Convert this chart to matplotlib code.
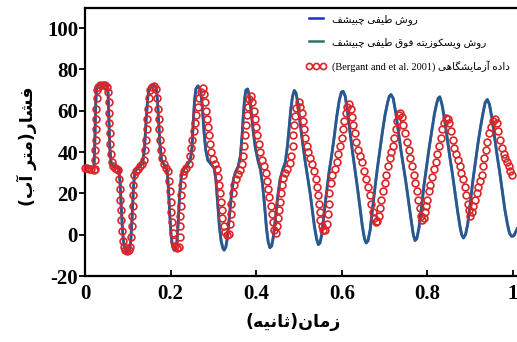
import matplotlib
matplotlib.use("Agg")
import matplotlib.pyplot as plt
from matplotlib.lines import Line2D
from matplotlib.font_manager import FontProperties

# ---------------------------------------------------------------------------
# Simulated pressure head (Chebyshev spectral / spectral-viscosity), m of water
# ---------------------------------------------------------------------------
t_sim = [
    0.000, 0.021, 0.023, 0.025, 0.027, 0.030, 0.042, 0.052, 0.054, 0.056,
    0.058, 0.061, 0.065, 0.072, 0.079, 0.082, 0.085, 0.088, 0.091, 0.095,
    0.100, 0.104, 0.107, 0.110, 0.113, 0.116, 0.120, 0.128, 0.135, 0.139,
    0.143, 0.147, 0.151, 0.158, 0.166, 0.169, 0.172, 0.175, 0.179, 0.186,
    0.192, 0.195, 0.198, 0.201, 0.204, 0.208, 0.212, 0.215, 0.218, 0.221,
    0.225, 0.230, 0.238, 0.246, 0.250, 0.253, 0.256, 0.259, 0.264, 0.270,
    0.274, 0.278, 0.282, 0.287, 0.295, 0.302, 0.306, 0.310, 0.314, 0.318,
    0.322, 0.325, 0.329, 0.333, 0.337, 0.342, 0.347, 0.352, 0.358, 0.363,
    0.367, 0.370, 0.373, 0.376, 0.380, 0.384, 0.388, 0.393, 0.398, 0.404,
    0.410, 0.415, 0.420, 0.424, 0.428, 0.432, 0.436, 0.440, 0.445, 0.450,
    0.456, 0.462, 0.468, 0.473, 0.477, 0.481, 0.485, 0.489, 0.493, 0.497,
    0.502, 0.508, 0.514, 0.520, 0.526, 0.531, 0.536, 0.541, 0.545, 0.549,
    0.553, 0.558, 0.564, 0.570, 0.576, 0.582, 0.588, 0.594, 0.599, 0.603,
    0.608, 0.613, 0.619, 0.625, 0.631, 0.637, 0.643, 0.648, 0.653, 0.657,
    0.661, 0.666, 0.671, 0.677, 0.683, 0.689, 0.695, 0.701, 0.707, 0.711,
    0.715, 0.720, 0.726, 0.732, 0.738, 0.744, 0.750, 0.756, 0.762, 0.767,
    0.771, 0.775, 0.780, 0.786, 0.792, 0.798, 0.804, 0.810, 0.816, 0.821,
    0.825, 0.829, 0.834, 0.840, 0.846, 0.852, 0.858, 0.864, 0.870, 0.876,
    0.880, 0.884, 0.889, 0.894, 0.900, 0.906, 0.912, 0.918, 0.924, 0.930,
    0.935, 0.940, 0.945, 0.951, 0.957, 0.963, 0.969, 0.975, 0.981, 0.987,
    0.992, 0.997, 1.002, 1.010,
]
p_sim = [
    32.5, 32.5, 45, 63, 71, 72.5, 72.8, 72, 68, 55,
    42, 35, 33, 32.5, 32, 25, 12, 1, -5, -8,
    -8.5, -7.5, -3, 8, 22, 30, 31.5, 33, 35, 42,
    56, 67, 71.5, 72.5, 71.5, 66, 55, 44, 36, 33.5,
    31, 22, 10, 0, -5, -7.5, -7, -3, 7, 19,
    28, 31.5, 33.5, 36, 42, 55, 65, 70.5, 72, 70,
    62, 50, 41, 36, 34, 32, 26, 15, 4, -3,
    -6.5, -7.5, -6, -1, 8, 19, 27, 30.5, 33, 38,
    48, 58, 66, 70, 70.5, 67, 60, 50, 42, 36,
    31.5, 24, 13, 3, -3.5, -6.3, -5.5, -1, 8, 18,
    27, 31.5, 35, 43, 52, 61, 67, 69.8, 68.5, 64,
    55, 45, 36, 28, 20, 12, 4, -2, -4.8, -4,
    0, 9, 20, 30, 38, 47, 57, 65, 69, 69.4,
    67, 60, 50, 40, 31, 22, 12, 4, -2, -4,
    -3, 2, 11, 22, 32, 41, 50, 58, 64, 67,
    67.8, 66, 59, 50, 41, 33, 25, 16, 7, 0,
    -2.8, -2, 3, 13, 24, 33, 42, 50, 58, 63,
    66, 66.7, 63, 56, 47, 38, 30, 21, 12, 4,
    0, -1.6, 0, 5, 15, 26, 35, 44, 52, 59,
    64, 65.4, 63, 56, 47, 38, 30, 21, 12, 5,
    0.5, -0.8, -0.5, 3,
]

# ---------------------------------------------------------------------------
# Measured pressure head (Bergant et al. 2001)
# ---------------------------------------------------------------------------
t_exp = [
    0.000, 0.005, 0.010, 0.015, 0.020, 0.023,
    0.024, 0.0245, 0.025, 0.0255, 0.026, 0.0265, 0.027, 0.028,
    0.031, 0.036, 0.041, 0.046, 0.051, 0.054,
    0.055, 0.056, 0.057, 0.058, 0.059, 0.060, 0.062,
    0.066, 0.070, 0.074, 0.078,
    0.080, 0.081, 0.082, 0.083, 0.084, 0.086, 0.088, 0.090,
    0.094, 0.098, 0.102, 0.106,
    0.108, 0.109, 0.110, 0.111, 0.112, 0.113, 0.115,
    0.119, 0.124, 0.129, 0.134, 0.138,
    0.140, 0.142, 0.144, 0.146, 0.148, 0.150, 0.153,
    0.157, 0.162, 0.166,
    0.168, 0.170, 0.172, 0.174, 0.176, 0.178, 0.181,
    0.185, 0.190, 0.194,
    0.196, 0.198, 0.200, 0.202, 0.204, 0.206, 0.208,
    0.211, 0.215, 0.219,
    0.221, 0.222, 0.223, 0.224, 0.225, 0.226, 0.228,
    0.232, 0.237, 0.242,
    0.245, 0.248, 0.251, 0.254, 0.257, 0.260, 0.263, 0.266, 0.270, 0.275,
    0.279, 0.281, 0.283, 0.285, 0.287, 0.289, 0.291, 0.294,
    0.298, 0.303, 0.308,
    0.311, 0.313, 0.315, 0.317, 0.319, 0.321, 0.324,
    0.328, 0.332, 0.336,
    0.338, 0.340, 0.342, 0.345, 0.348, 0.352, 0.357, 0.362, 0.367, 0.370,
    0.372, 0.374, 0.376, 0.378, 0.380, 0.383, 0.387,
    0.391, 0.394, 0.397, 0.400, 0.403, 0.406, 0.410, 0.414, 0.418, 0.422,
    0.425, 0.428, 0.431, 0.434, 0.437, 0.439, 0.442, 0.446,
    0.449, 0.451, 0.453, 0.455, 0.457, 0.460, 0.463, 0.468, 0.473, 0.478,
    0.482, 0.485, 0.487, 0.489, 0.491, 0.494, 0.499,
    0.503, 0.506, 0.509, 0.512, 0.515, 0.518, 0.521, 0.526, 0.531, 0.536,
    0.540, 0.542, 0.544, 0.546, 0.548, 0.550, 0.553, 0.557, 0.561,
    0.565, 0.567, 0.569, 0.571, 0.574, 0.578, 0.583, 0.588, 0.592, 0.596,
    0.600, 0.603, 0.606, 0.609, 0.613, 0.617,
    0.621, 0.624, 0.627, 0.631, 0.634, 0.638, 0.642, 0.647, 0.652, 0.657,
    0.661, 0.665, 0.669, 0.672, 0.675, 0.679,
    0.683, 0.686, 0.689, 0.692, 0.696, 0.700, 0.704, 0.708, 0.712, 0.716,
    0.720, 0.723, 0.726, 0.729, 0.733, 0.737,
    0.741, 0.744, 0.748, 0.752, 0.756, 0.760, 0.764, 0.768, 0.772, 0.776,
    0.779, 0.782, 0.785, 0.788,
    0.791, 0.794, 0.797, 0.800, 0.803, 0.807, 0.811, 0.815, 0.819, 0.823,
    0.827, 0.831, 0.835, 0.839, 0.843, 0.847,
    0.851, 0.855, 0.859, 0.863, 0.867, 0.871, 0.875, 0.879, 0.883, 0.887,
    0.891, 0.894, 0.897, 0.900,
    0.903, 0.907, 0.911, 0.915, 0.919, 0.923, 0.927, 0.930, 0.933, 0.937,
    0.940, 0.944, 0.948, 0.953, 0.958,
    0.962, 0.966, 0.970, 0.974, 0.978, 0.982, 0.986, 0.990, 0.994, 0.998,
]
p_exp = [
    32.5, 32.5, 32, 32, 31.5, 32,
    36, 41, 46, 51, 56, 61, 66, 70,
    71.5, 72.5, 72.5, 72.5, 71.5, 69,
    64, 59, 54, 49, 44, 39, 35,
    33, 32.5, 32, 31.5,
    27, 22, 17, 12, 7, 2, -3, -6,
    -7.5, -8, -7.5, -6,
    -1, 4, 9, 14, 19, 24, 29,
    31, 32, 33, 34, 36,
    41, 46, 51, 56, 61, 66, 70,
    71.5, 72, 70.5,
    66, 61, 56, 51, 46, 41, 37,
    34, 32.5, 31,
    26, 21, 16, 11, 6, 1, -3,
    -5.5, -6.5, -6,
    -1, 4, 9, 14, 19, 24, 29,
    31, 32.5, 34,
    38, 42, 46, 50, 54, 58, 62, 66, 69, 71,
    68, 64, 60, 56, 52, 48, 44, 40,
    36.5, 34, 32,
    28, 24, 20, 16, 12, 8, 4,
    1.5, 0, 0.5,
    5, 10, 15, 20, 24, 27, 29.5, 31.5, 34, 38,
    43, 48, 53, 58, 62, 65.5, 67,
    64, 60, 56, 52, 48, 44, 40, 36, 33, 30,
    26, 22, 18, 14, 10, 6, 2.5, 1,
    4, 8, 12, 16, 20, 24, 27.5, 30, 32, 34.5,
    38, 43, 48, 53, 57.5, 61.5, 64,
    62, 59, 55, 51, 47, 43, 40, 37, 34, 31,
    27, 23, 19, 15, 11, 7, 4, 2.5, 2.5,
    5, 10, 15, 20, 25, 29, 32, 35, 39, 43,
    47, 51, 55, 59, 62, 63,
    61, 57, 53, 49, 45, 41, 38, 35, 31, 27,
    23, 19, 15, 11, 8, 6,
    6.5, 9, 13, 17, 21, 25, 29, 33, 37, 40,
    43, 47, 51, 55, 58, 59,
    57, 53, 49, 45, 41, 37, 33, 29, 25, 21,
    17, 13, 9, 7,
    8, 11, 14, 17, 21, 24, 28, 32, 35, 39,
    43, 47, 51, 54, 56.5, 56,
    54, 50, 46, 42, 39, 36, 33, 30, 27, 23,
    19, 15, 12, 9,
    11, 14, 17, 20, 23, 26, 29, 33, 37, 41,
    45, 49, 52, 55, 56,
    54, 50, 46, 42, 39, 37, 35, 33, 31, 29,
]
assert len(t_sim) == len(p_sim), (len(t_sim), len(p_sim))
assert len(t_exp) == len(p_exp), (len(t_exp), len(p_exp))

x_ticks = [0, 0.2, 0.4, 0.6, 0.8, 1.0]
x_tick_labels = ["0", "0.2", "0.4", "0.6", "0.8", "1"]
y_ticks = [-20, 0, 20, 40, 60, 80, 100]
y_tick_labels = ["-20", "0", "20", "40", "60", "80", "100"]

label_spectral = "روش طیفی چبیشف"
label_viscosity = "روش ویسکوزیته فوق طیفی چبیشف"
label_measured = "داده آزمایشگاهی"
label_source = "(Bergant and et al. 2001)"
x_title = "زمان(ثانیه)"
y_title = "فشار(متر آب)"

# ---------------------------------------------------------------------------
# Minimal Persian shaping: contextual presentation forms + visual reordering
# (isolated, final, initial, medial)
# ---------------------------------------------------------------------------
_FORMS = {
    "\u0627": ("\uFE8D", "\uFE8E", None, None),
    "\u0622": ("\uFE81", "\uFE82", None, None),
    "\u0628": ("\uFE8F", "\uFE90", "\uFE91", "\uFE92"),
    "\u062A": ("\uFE95", "\uFE96", "\uFE97", "\uFE98"),
    "\u062B": ("\uFE99", "\uFE9A", "\uFE9B", "\uFE9C"),
    "\u0686": ("\uFB7A", "\uFB7B", "\uFB7C", "\uFB7D"),
    "\u062F": ("\uFEA9", "\uFEAA", None, None),
    "\u0631": ("\uFEAD", "\uFEAE", None, None),
    "\u0632": ("\uFEAF", "\uFEB0", None, None),
    "\u0633": ("\uFEB1", "\uFEB2", "\uFEB3", "\uFEB4"),
    "\u0634": ("\uFEB5", "\uFEB6", "\uFEB7", "\uFEB8"),
    "\u0637": ("\uFEC1", "\uFEC2", "\uFEC3", "\uFEC4"),
    "\u0641": ("\uFED1", "\uFED2", "\uFED3", "\uFED4"),
    "\u0642": ("\uFED5", "\uFED6", "\uFED7", "\uFED8"),
    "\u06A9": ("\uFB8E", "\uFB8F", "\uFB90", "\uFB91"),
    "\u06AF": ("\uFB92", "\uFB93", "\uFB94", "\uFB95"),
    "\u0645": ("\uFEE1", "\uFEE2", "\uFEE3", "\uFEE4"),
    "\u0646": ("\uFEE5", "\uFEE6", "\uFEE7", "\uFEE8"),
    "\u0647": ("\uFEE9", "\uFEEA", "\uFEEB", "\uFEEC"),
    "\u0648": ("\uFEED", "\uFEEE", None, None),
    "\u06CC": ("\uFBFC", "\uFBFD", "\uFBFE", "\uFBFF"),
}


def rtl(text):
    text = text.replace("\u064A", "\u06CC").replace("\u0643", "\u06A9")
    out = []
    for i, ch in enumerate(text):
        forms = _FORMS.get(ch)
        if forms is None:
            out.append(ch)
            continue
        prev = text[i - 1] if i > 0 else None
        nxt = text[i + 1] if i + 1 < len(text) else None
        join_prev = prev in _FORMS and _FORMS[prev][2] is not None
        join_next = forms[2] is not None and nxt in _FORMS
        if join_prev and join_next:
            out.append(forms[3])
        elif join_prev:
            out.append(forms[1])
        elif join_next:
            out.append(forms[2])
        else:
            out.append(forms[0])
    visual = "".join(reversed(out))
    return visual.translate(str.maketrans("()", ")("))


# ---------------------------------------------------------------------------
W, H = 517, 342
fig = plt.figure(figsize=(W / 100, H / 100), dpi=100)
ax = fig.add_axes([85 / W, 66 / H, 436.6 / W, 268 / H])

c_blue = "#1f2fc8"
c_green = "#2c7466"
c_red = "#d8262a"

ax.plot(t_sim, p_sim, color=c_blue, lw=2.0, zorder=2)
ax.plot(t_sim, p_sim, color=c_green, lw=2.0, alpha=0.62, zorder=3)
ax.plot(t_exp, p_exp, linestyle="none", marker="o", ms=4.9, mew=1.2,
        mfc="none", mec=c_red, zorder=4, clip_on=False)

ax.set_xlim(0, 1.02)
ax.set_ylim(-20, 109.7)

tick_font = FontProperties(family="Liberation Serif", weight="bold", size=15)
ax.set_xticks(x_ticks)
ax.set_xticklabels(x_tick_labels, fontproperties=tick_font)
ax.set_yticks(y_ticks)
ax.set_yticklabels(y_tick_labels, fontproperties=tick_font)
ax.tick_params(axis="x", direction="in", length=4, width=1.3, pad=6)
ax.tick_params(axis="y", direction="out", length=4, width=1.3, pad=1)

for side in ("left", "bottom", "top"):
    ax.spines[side].set_linewidth(1.6)
ax.spines["right"].set_visible(False)

label_font = FontProperties(family=["DejaVu Sans"], weight="bold", size=12.5)
fig.text(293 / W, 1 - 322 / H, rtl(x_title), ha="center", va="center",
         fontproperties=label_font)
fig.text(27 / W, 1 - 146 / H, rtl(y_title), ha="center", va="center",
         rotation=90, fontproperties=label_font)

handles = [
    Line2D([], [], color=c_blue, lw=1.8),
    Line2D([], [], color=c_green, lw=1.8),
    Line2D([], [], linestyle="none", marker="o", ms=4.4, mew=1.2,
           mfc="none", mec=c_red),
]
labels = [
    rtl(label_spectral),
    rtl(label_viscosity),
    label_source + " " + rtl(label_measured),
]
leg_font = FontProperties(family=["Liberation Serif", "DejaVu Sans"], size=7.5)
ax.legend(handles, labels, loc="upper left", bbox_to_anchor=(0.50, 0.985),
          frameon=False, prop=leg_font, numpoints=3, handlelength=2.0,
          handletextpad=0.6, labelspacing=1.15, borderaxespad=0,
          borderpad=0.2)

fig.savefig("out.png", dpi=100)
